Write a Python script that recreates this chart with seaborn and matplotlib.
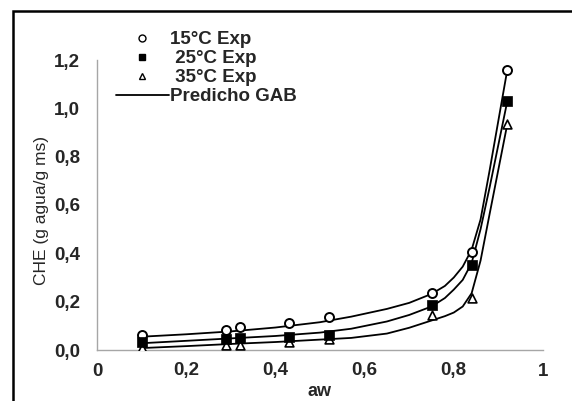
import matplotlib
matplotlib.use("Agg")
import matplotlib.pyplot as plt
import seaborn as sns
import pandas as pd
from matplotlib.patches import Rectangle
from matplotlib.lines import Line2D

# experimental points
aw_exp = [0.10, 0.29, 0.32, 0.43, 0.52, 0.75, 0.84, 0.92]
che_15 = [0.063, 0.084, 0.094, 0.11, 0.138, 0.234, 0.407, 1.16]
che_25 = [0.035, 0.045, 0.05, 0.052, 0.062, 0.185, 0.352, 1.03]
che_35 = [0.008, 0.02, 0.022, 0.035, 0.045, 0.145, 0.215, 0.935]

# GAB predicted curves
aw_gab = [0.10, 0.20, 0.30, 0.40, 0.50, 0.57, 0.65, 0.70, 0.75, 0.78, 0.80, 0.82, 0.84, 0.86, 0.88, 0.92]
gab_15 = [0.055, 0.065, 0.077, 0.093, 0.115, 0.138, 0.17, 0.195, 0.232, 0.265, 0.30, 0.345, 0.415, 0.54, 0.74, 1.16]
gab_25 = [0.028, 0.038, 0.048, 0.058, 0.072, 0.088, 0.118, 0.145, 0.18, 0.215, 0.25, 0.29, 0.36, 0.50, 0.67, 1.03]
gab_35 = [0.008, 0.016, 0.025, 0.033, 0.043, 0.05, 0.068, 0.092, 0.122, 0.14, 0.155, 0.18, 0.235, 0.37, 0.56, 0.935]

x_ticks = [0, 0.2, 0.4, 0.6, 0.8, 1.0]
x_labels = ['0', '0,2', '0,4', '0,6', '0,8', '1']
y_ticks = [0, 0.2, 0.4, 0.6, 0.8, 1.0, 1.2]
y_labels = ['0,0', '0,2', '0,4', '0,6', '0,8', '1,0', '1,2']

sns.set_style('white')
plt.rcParams['font.family'] = ['Liberation Sans', 'DejaVu Sans']

fig = plt.figure(figsize=(5.72, 4.01), dpi=100)
ax = fig.add_axes([97/572, 1-350/401, 446/572, 290/401])

df_exp = pd.DataFrame({'aw': aw_exp, 'c15': che_15, 'c25': che_25, 'c35': che_35})
df_gab = pd.DataFrame({'aw': aw_gab, 'g15': gab_15, 'g25': gab_25, 'g35': gab_35})

for col in ['g15', 'g25', 'g35']:
    sns.lineplot(data=df_gab, x='aw', y=col, ax=ax, color='black', lw=1.3,
                 estimator=None, sort=False, zorder=2)

sns.scatterplot(data=df_exp, x='aw', y='c15', ax=ax, marker='o', s=42,
                facecolor='white', edgecolor='black', linewidth=1.4, zorder=3)
sns.scatterplot(data=df_exp, x='aw', y='c25', ax=ax, marker='s', s=44,
                color='black', edgecolor='black', linewidth=0.5, zorder=4)
sns.scatterplot(data=df_exp, x='aw', y='c35', ax=ax, marker='^', s=40,
                facecolor='white', edgecolor='black', linewidth=1.2, zorder=3)

ax.set_xlim(0, 1)
ax.set_ylim(0, 1.2)
ax.set_xticks(x_ticks)
ax.set_xticklabels(x_labels, fontweight='bold', fontsize=13.5)
ax.set_yticks(y_ticks)
ax.set_yticklabels(y_labels, fontweight='bold', fontsize=13.5)
ax.tick_params(axis='both', length=0)
ax.tick_params(axis='y', pad=12)
ax.tick_params(axis='x', pad=9)

for s in ['top', 'right']:
    ax.spines[s].set_visible(False)
for s in ['left', 'bottom']:
    ax.spines[s].set_color('#a6a6a6')
    ax.spines[s].set_linewidth(1.0)

ax.set_xlabel('aw', fontsize=13, fontweight='bold')
ax.xaxis.set_label_coords(0.5, -0.115)
ax.set_ylabel('CHE (g agua/g ms)', fontsize=12.5)
ax.yaxis.set_label_coords(-0.108, 0.48)

# legend
handles = [
    Line2D([], [], ls='none', marker='o', ms=5, mfc='white', mec='black', mew=1.0),
    Line2D([], [], ls='none', marker='s', ms=5, mfc='black', mec='black'),
    Line2D([], [], ls='none', marker='^', ms=5, mfc='white', mec='black', mew=1.0),
    Line2D([], [], color='black', lw=1.3),
]
labels = ['15°C Exp', ' 25°C Exp', ' 35°C Exp', 'Predicho GAB']
fig.legend(handles, labels, loc='upper left', bbox_to_anchor=(116/572, 1-31/401),
           frameon=False, prop={'weight': 'bold', 'size': 13.5}, handlelength=2.8,
           handletextpad=0.1, labelspacing=0.1, borderpad=0, borderaxespad=0)

# outer chart border
fig.add_artist(Rectangle((12.5/572, -0.1), 1.2, 1-11/401+0.1, transform=fig.transFigure,
                         fill=False, ec='black', lw=1.8))

fig.savefig('out.png', dpi=100)
